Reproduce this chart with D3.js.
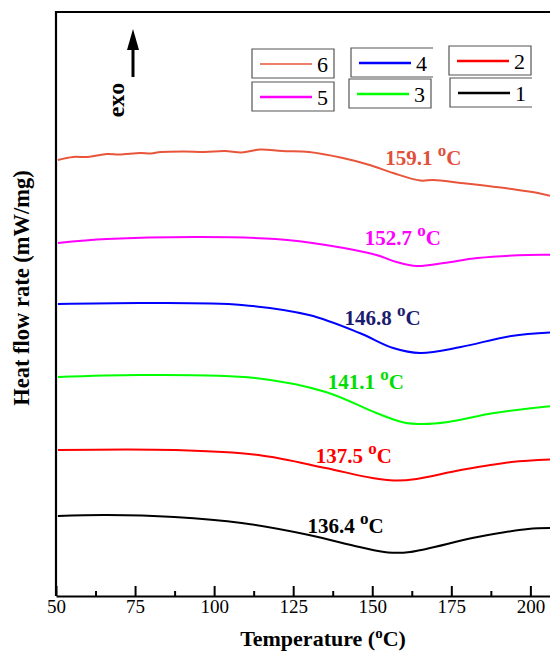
<!DOCTYPE html>
<html>
<head>
<meta charset="utf-8">
<script src="https://cdn.jsdelivr.net/npm/d3@7"></script>
<style>
	body { margin: 0; background: #fff; }
	svg { display: block; }
	text { font-family: "Liberation Serif", "Times New Roman", serif; }
</style>
</head>
<body>
<div id="svg-container"></div>
<script>

// DATA (temperature in oC, heat flow in arbitrary offset units)
const curve1 = [[50.6,0.80],[66.1,0.81],[87.4,0.79],[108.7,0.73],[130,0.61],[146,0.49],[155,0.435],[162,0.44],[183.3,0.59],[199.3,0.67],[210,0.68]];
const curve2 = [[50.6,1.46],[87.4,1.46],[114,1.41],[135.3,1.28],[150,1.18],[157,1.155],[164,1.17],[178,1.26],[194,1.34],[210,1.37]];
const curve3 = [[50.6,2.19],[76.7,2.21],[113,2.18],[135.3,2.04],[151.3,1.83],[160,1.735],[166,1.72],[174,1.74],[188.6,1.83],[210,1.91]];
const curve4 = [[50.6,2.92],[78.9,2.93],[108.7,2.91],[130,2.81],[146,2.63],[156.6,2.48],[165.2,2.43],[178,2.49],[194,2.60],[210,2.64]];
const curve5 = [[50.6,3.53],[66.1,3.57],[95.9,3.59],[119.4,3.57],[135.3,3.51],[151.3,3.41],[157.7,3.34],[164.1,3.30],[172.6,3.33],[183.3,3.38],[199.3,3.41],[210,3.41]];
const curve6 = [[50.6,4.36],[55.4,4.39],[60,4.39],[66.1,4.42],[70,4.415],[76.7,4.43],[80,4.425],[83.1,4.44],[90.6,4.445],[97,4.44],[103.4,4.45],[108.7,4.435],[114.6,4.465],[121.5,4.45],[130,4.44],[140.7,4.38],[149.2,4.31],[156.6,4.23],[165.2,4.155],[169.4,4.16],[178,4.13],[194,4.07],[202.4,4.03],[210,3.97]];

const seriesNames = ['1', '2', '3', '4', '5', '6'];
const seriesColors = ['#000000', '#ff0000', '#00ff00', '#0000ff', '#ff00ff', '#e8553a'];

// peak annotations: label, temperature, value at baseline
const peakLabels = ['136.4', '137.5', '141.1', '146.8', '152.7', '159.1'];
const peakX = [129.5, 132.1, 135.9, 141.2, 147.6, 154.1];
const peakY = [0.63, 1.33, 2.07, 2.71, 3.51, 4.31];
const peakColors = ['#000000', '#ff0000', '#00dd00', '#1c1c6e', '#ff00ff', '#e0503a'];

const xTicks = [50, 75, 100, 125, 150, 175, 200];
const xMinorTicks = [62.5, 87.5, 112.5, 137.5, 162.5, 187.5];


function drawChart() {
	const w = 550, h = 652;
	const left = 56, right = 562, top = 12, bottom = 596;

	const svg = d3.select('#svg-container').append('svg')
		.attr('width', w)
		.attr('height', h);

	// scales
	const xScale = d3.scaleLinear().domain([50, 210]).range([left, right]);
	const yScale = d3.scaleLinear().domain([0, 5.84]).range([bottom, top]);

	// frame
	svg.append('path')
		.attr('d', `M${right},${top}H${left}V${bottom}`)
		.attr('fill', 'none')
		.attr('stroke', '#000')
		.attr('stroke-width', 2.2);

	// x axis, ticks pointing inward
	const xAxis = d3.axisBottom(xScale)
		.tickValues(xTicks)
		.tickSizeInner(-10)
		.tickSizeOuter(0)
		.tickPadding(4);
	const gx = svg.append('g')
		.attr('transform', `translate(0,${bottom})`)
		.call(xAxis);
	gx.select('.domain').attr('stroke-width', 2.2);
	gx.selectAll('.tick line').attr('stroke-width', 2);
	gx.selectAll('.tick text')
		.attr('font-size', 19)
		.attr('fill', '#000');

	const minorAxis = d3.axisBottom(xScale)
		.tickValues(xMinorTicks)
		.tickSizeInner(-5)
		.tickSizeOuter(0)
		.tickFormat('');
	const gm = svg.append('g')
		.attr('transform', `translate(0,${bottom})`)
		.call(minorAxis);
	gm.select('.domain').remove();
	gm.selectAll('.tick line').attr('stroke-width', 2);

	// axis titles
	const xTitle = svg.append('text')
		.attr('x', (238 + 408) / 2)
		.attr('y', 646)
		.attr('text-anchor', 'middle')
		.attr('font-size', 22)
		.attr('font-weight', 'bold');
	xTitle.append('tspan').text('Temperature (');
	xTitle.append('tspan').attr('dy', -8).attr('font-size', 15).text('o');
	xTitle.append('tspan').attr('dy', 8).text('C)');

	svg.append('text')
		.attr('transform', `translate(29,${288}) rotate(-90)`)
		.attr('text-anchor', 'middle')
		.attr('font-size', 22.5)
		.attr('font-weight', 'bold')
		.text('Heat flow rate (mW/mg)');

	// exo arrow
	svg.append('line')
		.attr('x1', 133).attr('x2', 133)
		.attr('y1', 77).attr('y2', 44)
		.attr('stroke', '#000')
		.attr('stroke-width', 3);
	svg.append('path')
		.attr('d', 'M133,29L139,50L127,50Z')
		.attr('fill', '#000');
	svg.append('text')
		.attr('transform', 'translate(124,100) rotate(-90)')
		.attr('text-anchor', 'middle')
		.attr('font-size', 24)
		.attr('font-weight', 'bold')
		.text('exo');

	// curves
	const curves = [curve1, curve2, curve3, curve4, curve5, curve6];
	const line = d3.line()
		.x(d => xScale(d[0]))
		.y(d => yScale(d[1]))
		.curve(d3.curveCatmullRom.alpha(0.5));
	svg.selectAll('path.curve')
		.data(curves)
		.enter()
		.append('path')
		.attr('class', 'curve')
		.attr('d', line)
		.attr('fill', 'none')
		.attr('stroke', (d, i) => seriesColors[i])
		.attr('stroke-width', 2);

	// peak labels
	peakLabels.forEach((lab, i) => {
		const t = svg.append('text')
			.attr('x', xScale(peakX[i]))
			.attr('y', yScale(peakY[i]))
			.attr('font-size', 21)
			.attr('font-weight', 'bold')
			.attr('fill', peakColors[i]);
		t.append('tspan').text(lab + ' ');
		t.append('tspan').attr('dy', -9).attr('font-size', 17).text('o');
		t.append('tspan').attr('dy', 9).text('C');
	});

	// legend boxes (order as in picture)
	const legendBoxes = [
		{ s: 5, x: 252, y: 49, open: false },
		{ s: 4, x: 252, y: 82, open: false },
		{ s: 3, x: 351, y: 48, open: true },
		{ s: 2, x: 349, y: 79, open: false },
		{ s: 1, x: 449, y: 46, open: false },
		{ s: 0, x: 450, y: 78, open: true }
	];
	legendBoxes.forEach(b => {
		const g = svg.append('g').attr('transform', `translate(${b.x},${b.y})`);
		const bw = 82, bh = 29;
		g.append('path')
			.attr('d', b.open ? `M${bw},0H0V${bh}H${bw}` : `M0,0H${bw}V${bh}H0Z`)
			.attr('fill', 'none')
			.attr('stroke', '#555')
			.attr('stroke-width', 1.2);
		g.append('line')
			.attr('x1', 8).attr('x2', 60)
			.attr('y1', 15).attr('y2', 15)
			.attr('stroke', seriesColors[b.s])
			.attr('stroke-width', b.s === 5 ? 1.5 : 2.5);
		g.append('text')
			.attr('x', 65)
			.attr('y', 23)
			.attr('font-size', 22)
			.attr('fill', '#000')
			.text(seriesNames[b.s]);
	});
}

document.addEventListener('DOMContentLoaded', () => {
	drawChart();
});
</script>
</body>
</html>
